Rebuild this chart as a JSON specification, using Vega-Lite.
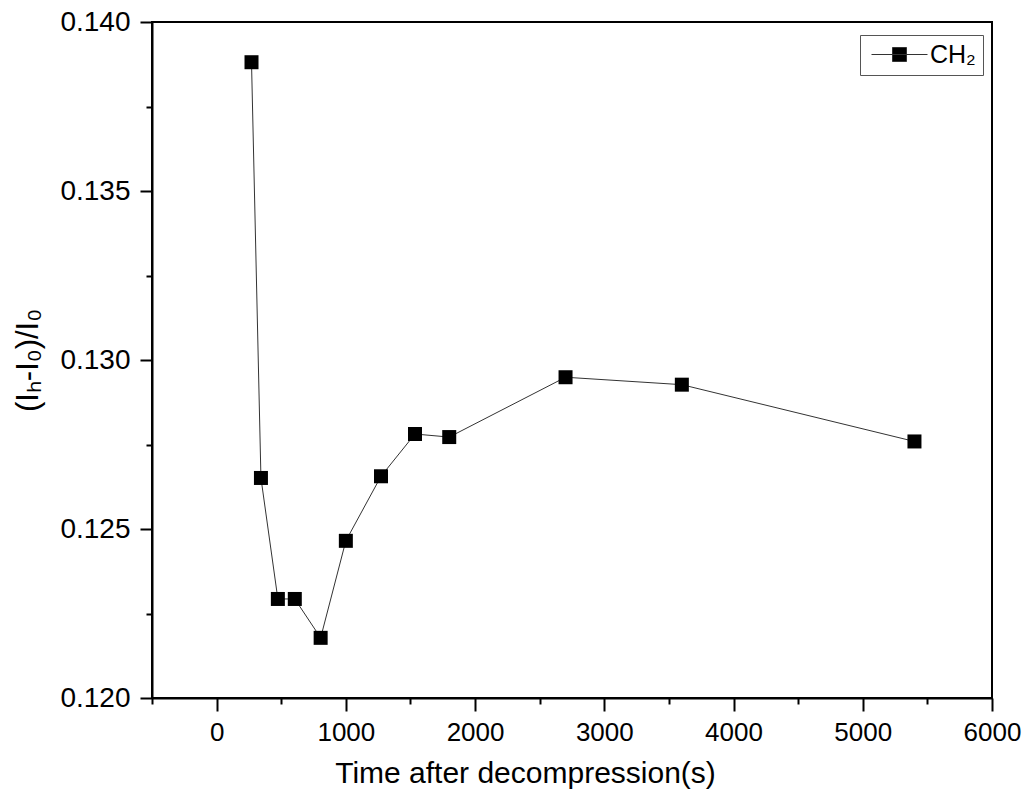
{
  "$schema": "https://vega.github.io/schema/vega-lite/v6.json",
  "width": 840,
  "height": 676,
  "autosize": {"type": "none"},
  "padding": {"left": 152, "top": 22, "right": 42, "bottom": 109},
  "background": "white",
  "config": {
    "view": {"stroke": "black", "strokeWidth": 2},
    "font": "Liberation Sans",
    "axis": {"grid": false, "domainColor": "black", "tickColor": "black", "labelColor": "black", "titleColor": "black", "labelFont": "Liberation Sans", "titleFont": "Liberation Sans", "titleFontWeight": "normal"}
  },
  "data": {"values": [
    {"t": 270, "v": 0.13881, "series": "CH₂"},
    {"t": 343, "v": 0.12651, "series": "CH₂"},
    {"t": 474, "v": 0.12293, "series": "CH₂"},
    {"t": 605, "v": 0.12293, "series": "CH₂"},
    {"t": 805, "v": 0.12178, "series": "CH₂"},
    {"t": 1000, "v": 0.12465, "series": "CH₂"},
    {"t": 1272, "v": 0.12656, "series": "CH₂"},
    {"t": 1535, "v": 0.12781, "series": "CH₂"},
    {"t": 1800, "v": 0.12772, "series": "CH₂"},
    {"t": 2700, "v": 0.12949, "series": "CH₂"},
    {"t": 3600, "v": 0.12927, "series": "CH₂"},
    {"t": 5400, "v": 0.12759, "series": "CH₂"}
  ]},
  "layer": [
    {
      "mark": {"type": "line", "color": "#333333", "strokeWidth": 1},
      "encoding": {
        "x": {"field": "t", "type": "quantitative",
          "scale": {"domain": [-500, 6000], "nice": false, "zero": false},
          "axis": {"orient": "bottom", "values": [0, 1000, 2000, 3000, 4000, 5000, 6000], "format": "d", "tickSize": 13, "tickWidth": 2, "domainWidth": 2, "labelFontSize": 26, "labelPadding": 8, "title": "Time after decompression(s)", "titleFontSize": 30, "titlePadding": 13, "titleX": 373, "labelFlush": false}},
        "y": {"field": "v", "type": "quantitative",
          "scale": {"domain": [0.12, 0.14], "nice": false, "zero": false},
          "axis": {"orient": "left", "values": [0.12, 0.125, 0.13, 0.135, 0.14], "format": ".3f", "tickSize": 12, "tickWidth": 2, "domainWidth": 2, "labelFontSize": 28, "labelPadding": 10, "title": "(Iₕ-I₀)/I₀", "titleFontSize": 31, "titlePadding": 15, "labelFlush": false}}
      }
    },
    {
      "mark": {"type": "point", "shape": "square", "filled": true, "size": 196, "opacity": 1},
      "encoding": {
        "x": {"field": "t", "type": "quantitative",
          "scale": {"domain": [-500, 6000], "nice": false, "zero": false},
          "axis": {"orient": "bottom", "values": [-500, 500, 1500, 2500, 3500, 4500, 5500], "tickSize": 6, "tickWidth": 2, "domain": false, "labels": false, "title": null}},
        "y": {"field": "v", "type": "quantitative",
          "scale": {"domain": [0.12, 0.14], "nice": false, "zero": false},
          "axis": {"orient": "left", "values": [0.1225, 0.1275, 0.1325, 0.1375], "tickSize": 6, "tickWidth": 2, "domain": false, "labels": false, "title": null}},
        "color": {"field": "series", "type": "nominal", "scale": {"range": ["black"]},
          "legend": {"title": null, "orient": "none", "legendX": 708, "legendY": 13, "symbolType": "M-4,0H4M-1,-1H1V1H-1Z", "symbolSize": 196, "symbolStrokeWidth": 1, "symbolStrokeColor": "#333333", "symbolFillColor": "black", "symbolOffset": 20, "labelOffset": 18, "labelFontSize": 25, "labelFont": "Liberation Sans", "labelColor": "black", "padding": 7, "strokeColor": "#555555", "fillColor": "white"}}
      }
    }
  ],
  "resolve": {"axis": {"x": "independent", "y": "independent"}}
}
